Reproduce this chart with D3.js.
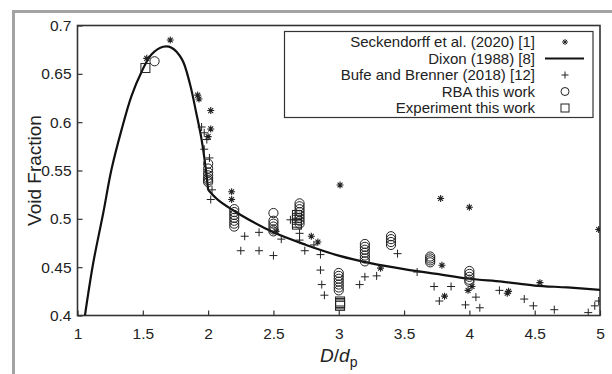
<!DOCTYPE html>
<html>
<head>
<meta charset="utf-8">
<script src="https://cdn.jsdelivr.net/npm/d3@7"></script>
<style>
  body { margin: 0; background: #fff; }
  text { font-family: "Liberation Sans", Arial, sans-serif; fill: #222; }
</style>
</head>
<body>
<svg id="chart" width="612" height="374"></svg>
<script>
// tick labels
var xTicks = [1, 1.5, 2, 2.5, 3, 3.5, 4, 4.5, 5];
var yTicks = [0.4, 0.45, 0.5, 0.55, 0.6, 0.65, 0.7];

// Seckendorff et al. (2020) [1]  (asterisk)
var seckendorff = [
  [1.53, 0.666], [1.71, 0.685], [1.92, 0.628], [1.93, 0.624], [2.02, 0.612],
  [2.02, 0.593], [2.00, 0.585], [2.18, 0.528], [2.18, 0.520], [2.52, 0.487],
  [2.79, 0.482], [2.84, 0.476], [3.01, 0.535], [3.32, 0.449], [3.78, 0.521],
  [3.79, 0.452], [3.81, 0.420], [3.99, 0.426], [4.00, 0.512], [4.02, 0.430],
  [4.29, 0.423], [4.30, 0.425], [4.54, 0.434], [4.99, 0.489]
];

// Dixon (1988) [8]  (line)
var dixonLow = [
  [1.057, 0.400], [1.12, 0.454], [1.197, 0.506], [1.26, 0.551], [1.337, 0.592],
  [1.413, 0.627], [1.49, 0.652], [1.566, 0.670], [1.656, 0.678], [1.72, 0.677],
  [1.80, 0.665], [1.86, 0.640], [1.91, 0.609], [1.95, 0.582], [1.98, 0.554],
  [2.00, 0.530]
];
var dixonHigh = [
  [2.00, 0.530], [2.08, 0.519], [2.25, 0.504], [2.50, 0.486], [2.75, 0.473],
  [3.00, 0.462], [3.25, 0.454], [3.50, 0.448], [3.75, 0.443], [4.00, 0.438],
  [4.25, 0.435], [4.50, 0.431], [4.75, 0.429], [5.00, 0.4265]
];

// Bufe and Brenner (2018) [12]  (plus)
var bufe = [
  [1.95, 0.595], [1.97, 0.589], [1.99, 0.582], [1.97, 0.572], [2.01, 0.563],
  [2.03, 0.530], [2.02, 0.520], [2.28, 0.482], [2.39, 0.486], [2.25, 0.467],
  [2.39, 0.467], [2.50, 0.462], [2.56, 0.479], [2.63, 0.499], [2.70, 0.485],
  [2.70, 0.478], [2.74, 0.467], [2.81, 0.473], [2.86, 0.463], [2.86, 0.447],
  [2.87, 0.432], [2.89, 0.421], [3.16, 0.432], [3.20, 0.440], [3.29, 0.441],
  [3.45, 0.464], [3.60, 0.445], [3.73, 0.430], [3.77, 0.415], [3.86, 0.430],
  [3.97, 0.411], [4.05, 0.419], [4.08, 0.408], [4.23, 0.426], [4.42, 0.417],
  [4.49, 0.410], [4.65, 0.406], [4.91, 0.403], [4.96, 0.410], [4.99, 0.415]
];

// RBA this work  (circle)
var rba = [
  [1.59, 0.663],
  [2.00, 0.557], [2.00, 0.552], [2.00, 0.548], [2.00, 0.545], [2.00, 0.542], [2.00, 0.540], [2.00, 0.538],
  [2.20, 0.510], [2.20, 0.507], [2.20, 0.504], [2.20, 0.501], [2.20, 0.498], [2.20, 0.495], [2.20, 0.492],
  [2.50, 0.506], [2.50, 0.498], [2.50, 0.495], [2.50, 0.492], [2.50, 0.489], [2.50, 0.487],
  [2.70, 0.516], [2.70, 0.513], [2.70, 0.510], [2.70, 0.507], [2.70, 0.504], [2.70, 0.501], [2.70, 0.498], [2.70, 0.495],
  [3.00, 0.444], [3.00, 0.441], [3.00, 0.438], [3.00, 0.435], [3.00, 0.432], [3.00, 0.429], [3.00, 0.426],
  [3.20, 0.474], [3.20, 0.471], [3.20, 0.468], [3.20, 0.465], [3.20, 0.462], [3.20, 0.459], [3.20, 0.456],
  [3.40, 0.482], [3.40, 0.479], [3.40, 0.476], [3.40, 0.473],
  [3.70, 0.461], [3.70, 0.459], [3.70, 0.457], [3.70, 0.455],
  [4.00, 0.446], [4.00, 0.443], [4.00, 0.440], [4.00, 0.437], [4.00, 0.435]
];

// Experiment this work  (square)
var experiment = [
  [1.52, 0.656],
  [2.68, 0.504], [2.68, 0.501], [2.68, 0.499], [2.68, 0.496], [2.68, 0.494],
  [3.01, 0.4145], [3.01, 0.413], [3.01, 0.4115], [3.01, 0.410]
];

var legendLabels = [
  "Seckendorff et al. (2020) [1]",
  "Dixon (1988) [8]",
  "Bufe and Brenner (2018) [12]",
  "RBA this work",
  "Experiment this work"
];

var ink = "#222";
var svg = d3.select("#chart");

// grey outer frame (only left and top show inside the window)
svg.append("rect")
  .attr("x", 13.5).attr("y", 11.5)
  .attr("width", 640).attr("height", 420)
  .attr("fill", "none").attr("stroke", "#a3a3a3").attr("stroke-width", 3);

var pLeft = 77.5, pRight = 600, pTop = 25.5, pBottom = 315.5;

var x = d3.scaleLinear().domain([1, 5]).range([pLeft, pRight]);
var y = d3.scaleLinear().domain([0.4, 0.7]).range([pBottom, pTop]);

svg.append("defs").append("clipPath").attr("id", "plot")
  .append("rect").attr("x", pLeft).attr("y", pTop)
  .attr("width", pRight - pLeft).attr("height", pBottom - pTop);

// marker shapes
function asterisk(s){
  var d = s * 0.7;
  return "M" + (-s) + ",0L" + s + ",0M0," + (-s) + "L0," + s +
         "M" + (-d) + "," + (-d) + "L" + d + "," + d +
         "M" + (-d) + "," + d + "L" + d + "," + (-d);
}
function plus(s){
  return "M" + (-s) + ",0L" + s + ",0M0," + (-s) + "L0," + s;
}

// axes (ticks point inward)
var xAxis = d3.axisBottom(x).tickValues(xTicks).tickSizeInner(-5).tickSizeOuter(0)
  .tickPadding(12).tickFormat(d3.format("~g"));
var gx = svg.append("g").attr("transform", "translate(0," + pBottom + ")").call(xAxis);

var yAxis = d3.axisLeft(y).tickValues(yTicks).tickSizeInner(-5).tickSizeOuter(0)
  .tickPadding(6).tickFormat(d3.format("~g"));
var gy = svg.append("g").attr("transform", "translate(" + pLeft + ",0)").call(yAxis);

svg.selectAll(".tick text").attr("font-size", null).style("font-size", "15.5px")
  .style("font-family", "'Liberation Sans', Arial, sans-serif").attr("fill", "#222");
svg.selectAll(".domain").remove();
svg.selectAll(".tick line").attr("stroke", "#333").attr("stroke-width", 1.2);

// box around plot
svg.append("rect")
  .attr("x", pLeft).attr("y", pTop)
  .attr("width", pRight - pLeft).attr("height", pBottom - pTop)
  .attr("fill", "none").attr("stroke", "#333").attr("stroke-width", 1.6);

var plot = svg.append("g").attr("clip-path", "url(#plot)");

// Dixon curve
var line = d3.line().x(function(d){ return x(d[0]); }).y(function(d){ return y(d[1]); })
  .curve(d3.curveCatmullRom);
plot.selectAll("path.dixon").data([dixonLow, dixonHigh]).enter().append("path")
  .attr("class", "dixon").attr("d", line)
  .attr("fill", "none").attr("stroke", "#111").attr("stroke-width", 2.2);

// plus points
plot.selectAll("path.bufe").data(bufe).enter().append("path")
  .attr("class", "bufe")
  .attr("transform", function(d){ return "translate(" + x(d[0]) + "," + y(d[1]) + ")"; })
  .attr("d", plus(4)).attr("stroke", ink).attr("stroke-width", 1).attr("fill", "none");

// circles
plot.selectAll("circle.rba").data(rba).enter().append("circle")
  .attr("class", "rba")
  .attr("cx", function(d){ return x(d[0]); })
  .attr("cy", function(d){ return y(d[1]); })
  .attr("r", 4.6).attr("fill", "none").attr("stroke", ink).attr("stroke-width", 1);

// squares
plot.selectAll("rect.exp").data(experiment).enter().append("rect")
  .attr("class", "exp")
  .attr("x", function(d){ return x(d[0]) - 4.5; })
  .attr("y", function(d){ return y(d[1]) - 4.5; })
  .attr("width", 9).attr("height", 9)
  .attr("fill", "none").attr("stroke", ink).attr("stroke-width", 1);

// asterisks
plot.selectAll("path.seck").data(seckendorff).enter().append("path")
  .attr("class", "seck")
  .attr("transform", function(d){ return "translate(" + x(d[0]) + "," + y(d[1]) + ")"; })
  .attr("d", asterisk(3.5)).attr("stroke", ink).attr("stroke-width", 1.1).attr("fill", "none");

// axis titles
svg.append("text")
  .attr("transform", "translate(41," + ((pTop + pBottom) / 2) + ") rotate(-90)")
  .attr("text-anchor", "middle").attr("font-size", 19)
  .text("Void Fraction");

var xl = svg.append("text")
  .attr("x", x(3)).attr("y", 362)
  .attr("text-anchor", "middle").attr("font-size", 19);
xl.append("tspan").attr("font-style", "italic").text("D");
xl.append("tspan").text("/");
xl.append("tspan").attr("font-style", "italic").text("d");
xl.append("tspan").attr("font-size", 14).attr("dy", 5).text("p");

// legend
var lg = svg.append("g");
lg.append("rect")
  .attr("x", 284.5).attr("y", 31.5).attr("width", 308.5).attr("height", 86)
  .attr("fill", "#fff").attr("stroke", "#333").attr("stroke-width", 1.2);

var rowY = d3.scalePoint().domain(d3.range(legendLabels.length)).range([42, 108]);
lg.selectAll("text").data(legendLabels).enter().append("text")
  .attr("x", 535).attr("y", function(d, i){ return rowY(i); })
  .attr("dy", "0.36em").attr("text-anchor", "end").attr("font-size", 15)
  .text(function(d){ return d; });

var sx = 565;
lg.append("path").attr("transform", "translate(" + sx + "," + rowY(0) + ")")
  .attr("d", asterisk(3)).attr("stroke", ink).attr("fill", "none");
lg.append("line").attr("x1", 545).attr("x2", 584).attr("y1", rowY(1)).attr("y2", rowY(1))
  .attr("stroke", "#111").attr("stroke-width", 2.2);
lg.append("path").attr("transform", "translate(" + sx + "," + rowY(2) + ")")
  .attr("d", plus(3.5)).attr("stroke", ink).attr("fill", "none");
lg.append("circle").attr("cx", sx).attr("cy", rowY(3)).attr("r", 4)
  .attr("fill", "none").attr("stroke", ink);
lg.append("rect").attr("x", sx - 4).attr("y", rowY(4) - 4).attr("width", 8).attr("height", 8)
  .attr("fill", "none").attr("stroke", ink);
</script>
</body>
</html>
